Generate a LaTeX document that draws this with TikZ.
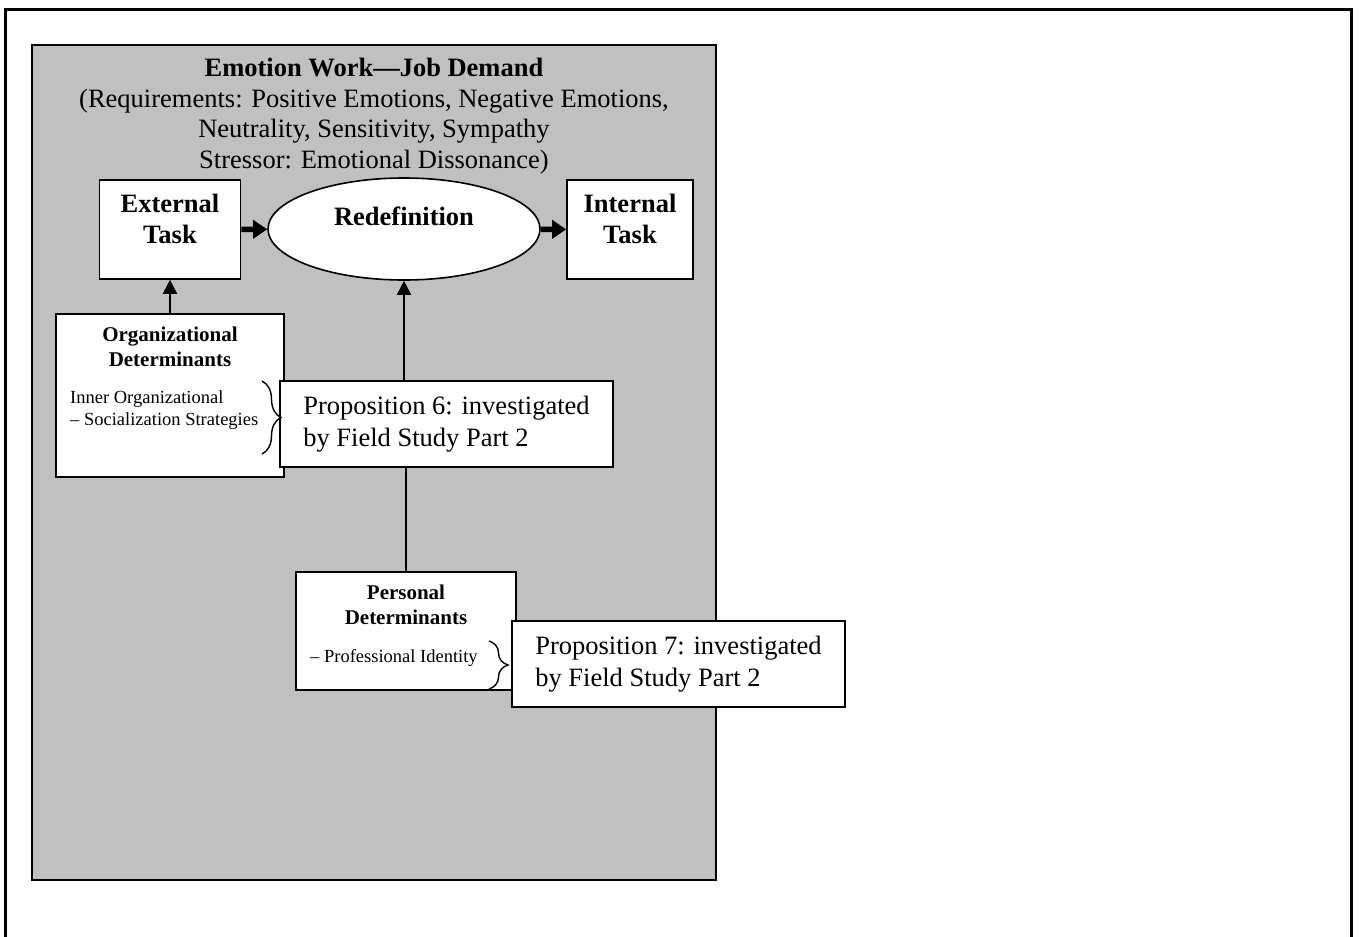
\documentclass[tikz,border=0pt]{standalone}
\usepackage{fontspec}
\setmainfont{Liberation Serif}
\usetikzlibrary{arrows.meta,positioning,shapes.geometric,decorations.pathreplacing}

\begin{document}
\begin{tikzpicture}[
    x=1pt, y=-1pt,
    box/.style={rectangle, draw, fill=white, line width=1.6pt, inner sep=0pt},
    big/.style={font=\fontsize{26.5pt}{30.5pt}\selectfont, align=center},
    bigbold/.style={font=\bfseries\fontsize{26.5pt}{31pt}\selectfont, align=center},
    smallbold/.style={font=\bfseries\fontsize{21pt}{25pt}\selectfont, align=center},
    small/.style={font=\fontsize{18.5pt}{22pt}\selectfont, align=left, anchor=west, inner sep=0pt},
    propbox/.style={box, minimum width=333pt, minimum height=86pt, align=left,
        font=\fontsize{26.5pt}{32pt}\selectfont},
    arrow/.style={-{Triangle[length=14pt,width=14pt]}, line width=1.8pt},
    fatarrow/.style={-{Triangle[length=14pt,width=18pt]}, line width=5.5pt},
    curly/.style={decorate, decoration={brace, amplitude=19pt}, line width=1.4pt}
]
\useasboundingbox (0,0) rectangle (1361,937);

% frame and panel
\draw[line width=3pt] (5,937) -- (5,9.5) -- (1351,9.5) -- (1351,937);
\draw[fill={rgb,255:red,192;green,192;blue,192}, line width=1.6pt] (32,45) rectangle (716,880);

\node[big] (heading) at (374,116) {\textbf{Emotion Work---Job Demand}\\
    (Requirements: Positive Emotions, Negative Emotions,\\
    Neutrality, Sensitivity, Sympathy\\
    Stressor: Emotional Dissonance)};

% tasks
\node[box, minimum width=141pt, minimum height=99pt] (ext) at (170,229.5) {};
\node[bigbold] (exttext) at (170,218.5) {External\\Task};
\node[ellipse, draw, fill=white, line width=1.6pt, minimum width=272pt, minimum height=102pt] (redef) at (404,229) {};
\node[bigbold] (redeftext) at (404,216) {Redefinition};
\node[box, minimum width=126pt, minimum height=99pt] (int) at (630,229.5) {};
\node[bigbold] (inttext) at (630,218.5) {Internal\\Task};

\draw[fatarrow] (ext) -- (redef);
\draw[fatarrow] (redef) -- (int);

% determinants
\node[box, minimum width=228pt, minimum height=163pt] (org) at (170,395.5) {};
\node[smallbold] (orgtitle) at (170,346.5) {Organizational\\Determinants};
\node[small] (orglist) at (70,410) {Inner Organizational\\-- Socialization Strategies};
\node[propbox] (prop6) at (446.5,424) {Proposition 6: investigated\\by Field Study Part 2};
\draw[curly] (262,381) -- (262,454);

\node[box, minimum width=220pt, minimum height=118pt] (pers) at (406,631) {};
\node[smallbold] (perstitle) at (406,604.5) {Personal\\Determinants};
\node[small] (perslist) at (310,658) {-- Professional Identity};
\node[propbox] (prop7) at (678.5,664) {Proposition 7: investigated\\by Field Study Part 2};
\draw[curly] (489,641) -- (489,689);

\draw[arrow] (org) -- (ext);
\draw[arrow] (prop6.north -| redef.south) -- (redef.south);
\draw[line width=1.8pt] (prop6.south -| pers.north) -- (pers.north);
\end{tikzpicture}
\end{document}
